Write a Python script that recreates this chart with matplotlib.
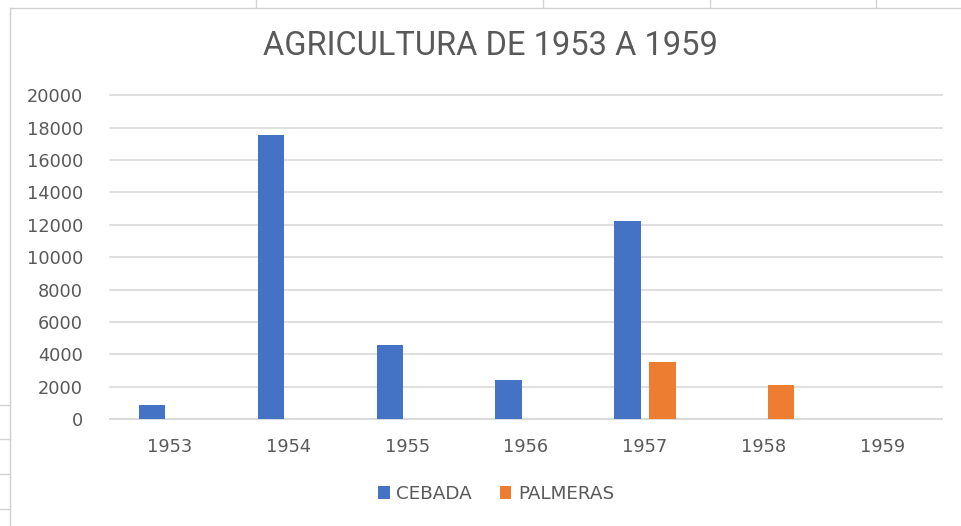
## Agricultura 1953-1959 bar chart
import numpy as np
import matplotlib.pyplot as plt
from matplotlib.lines import Line2D

## Data
years = ['1953', '1954', '1955', '1956', '1957', '1958', '1959']
cebada = [850, 17550, 4550, 2400, 12250, 0, 0]
palmeras = [0, 0, 0, 0, 3550, 2120, 0]
yticks = list(range(0, 20001, 2000))

blue = '#4472c4'
orange = '#ed7d31'
grey = '#595959'
grid = '#d9d9d9'

fig = plt.figure(figsize=(9.62, 5.26), dpi=100)

# spreadsheet cells peeking round the chart
for x in [256, 543, 710, 876]:
    fig.add_artist(Line2D([x/962, x/962], [1 - 8/526, 1], color='#d4d4d4', lw=1))
for y in [405, 439, 474, 509]:
    fig.add_artist(Line2D([0, 10/962], [1 - y/526, 1 - y/526], color='#d4d4d4', lw=1))
# chart frame
fig.add_artist(Line2D([10/962, 10/962], [0, 1 - 8/526], color='#d0d0d0', lw=1))
fig.add_artist(Line2D([10/962, 1], [1 - 8/526, 1 - 8/526], color='#d0d0d0', lw=1))

ax = fig.add_axes([110/962, 1 - 419/526, 832/962, (419 - 95.3)/526])

x = np.arange(len(years))
w = 0.223
ax.bar(x - 0.146, cebada, w, color=blue, label='CEBADA', zorder=3)
ax.bar(x + 0.147, palmeras, w, color=orange, label='PALMERAS', zorder=3)

ax.set_xlim(-0.5, len(years) - 0.5)
ax.set_ylim(0, 20000)
ax.set_yticks(yticks)
ax.set_xticks(x)
ax.set_xticklabels(years)
ax.yaxis.grid(True, color=grid, lw=1.2, zorder=0)
for gl in ax.get_ygridlines():
    gl.set_clip_on(False)
ax.set_axisbelow(True)
for s in ax.spines.values():
    s.set_visible(False)
ax.spines['bottom'].set_visible(True)
ax.spines['bottom'].set_color(grid)
ax.spines['bottom'].set_linewidth(1.2)
ax.tick_params(length=0, labelsize=12.8, colors=grey, pad=13.5)
ax.tick_params(axis='y', pad=19.5)

fig.text(490/962, 1 - 46/526, 'AGRICULTURA DE 1953 A 1959', ha='center', va='center',
         fontsize=23.5, color=grey, family=['Roboto', 'DejaVu Sans'])

ax.legend(loc='center', bbox_to_anchor=(496/962, 1 - 494/526), bbox_transform=fig.transFigure,
          ncol=2, frameon=False, fontsize=13.2, labelcolor=grey, handlelength=0.65,
          handleheight=0.65, handletextpad=0.35, columnspacing=1.5)

plt.savefig('out.png', dpi=100)
